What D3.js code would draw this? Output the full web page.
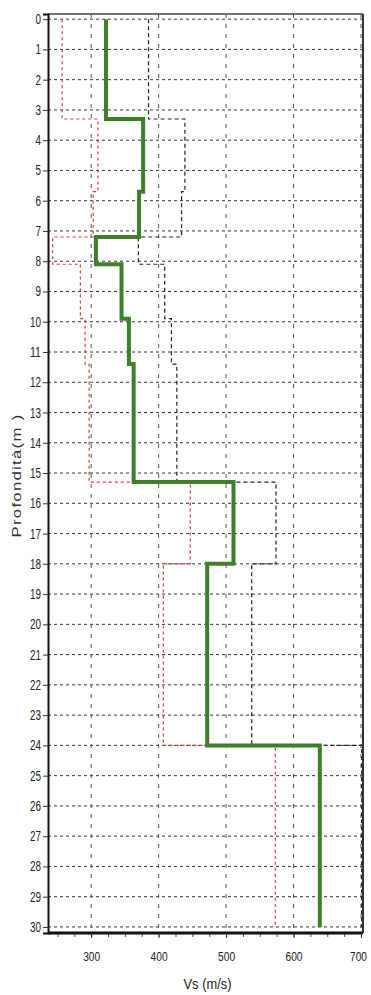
<!DOCTYPE html>
<html>
<head>
<meta charset="utf-8">
<script src="https://cdn.jsdelivr.net/npm/d3@7"></script>
<style>
  html, body { margin: 0; padding: 0; background: #fff; }
  svg { display: block; }
  .tick text { font-family: "Liberation Sans", Arial, sans-serif; fill: #222; }
</style>
</head>
<body>
<svg id="chart" width="371" height="995"></svg>
<script>
// Layer top depths (m); last layer ends at maxDepth
const layerTops = [0, 3.3, 5.7, 7.2, 8.1, 9.9, 11.4, 15.3, 18.0, 24.0];
const maxDepth = 30;
// Best-fit Vs profile (m/s)
const vsBest = [322, 377, 371, 307, 345, 356, 363, 511, 472, 639];
// Lower-bound profile (red dashed)
const vsMin = [257, 310, 303, 243, 284, 291, 297, 447, 407, 573];
// Upper-bound profile (black dashed)
const vsMax = [385, 439, 434, 370, 409, 419, 427, 574, 538, 701];
// Tick values
const xTickValues = [300, 400, 500, 600, 700];
const xMinorTicks = d3.range(250, 701, 25);
const yTickValues = d3.range(0, 31, 1);
const xTitle = "Vs (m/s)";
const yTitle = "Profondità(m )";

const svg = d3.select("#chart");
const L = 48, R = 363, T = 14, B = 933;
const x = d3.scaleLinear().domain([236, 703]).range([L, R]);
const y = d3.scaleLinear().domain([-0.17, 30.2]).range([T, B]);

// grid
const g = svg.append("g");
g.selectAll("line.hg").data(yTickValues).join("line")
  .attr("x1", L).attr("x2", R)
  .attr("y1", d => y(d)).attr("y2", d => y(d))
  .attr("stroke", "#333").attr("stroke-width", 1).attr("stroke-dasharray", "3,3");
g.selectAll("line.vg").data(xTickValues).join("line")
  .attr("x1", d => x(d)).attr("x2", d => x(d))
  .attr("y1", T).attr("y2", B)
  .attr("stroke", "#555").attr("stroke-width", 1).attr("stroke-dasharray", "4,6");

function steps(vals) {
  const pts = [];
  vals.forEach((v, i) => {
    const top = layerTops[i];
    const bot = i + 1 < layerTops.length ? layerTops[i + 1] : maxDepth;
    pts.push([v, top], [v, bot]);
  });
  return pts;
}
const line = d3.line().x(d => x(d[0])).y(d => y(d[1]));

svg.append("path").attr("d", line(steps(vsMin)))
  .attr("fill", "none").attr("stroke", "#e03a30").attr("stroke-width", 1.2)
  .attr("stroke-dasharray", "3,3");
svg.append("path").attr("d", line(steps(vsMax)))
  .attr("fill", "none").attr("stroke", "#222").attr("stroke-width", 1.2)
  .attr("stroke-dasharray", "4,3");
svg.append("path").attr("d", line(steps(vsBest)))
  .attr("fill", "none").attr("stroke", "#3f7f2c").attr("stroke-width", 4)
  .attr("stroke-linejoin", "miter");

// frame
svg.append("line").attr("x1", L).attr("x2", R).attr("y1", T).attr("y2", T).attr("stroke", "#444").attr("stroke-width", 1.5);
svg.append("line").attr("x1", R).attr("x2", R).attr("y1", T).attr("y2", B).attr("stroke", "#333").attr("stroke-width", 2);

// axes
const yAxis = d3.axisLeft(y).tickValues(yTickValues).tickSize(5).tickPadding(2).tickFormat(d3.format("d"));
const ya = svg.append("g").attr("transform", `translate(${L},0)`).call(yAxis);
ya.select(".domain").attr("stroke", "#111").attr("stroke-width", 2);
ya.selectAll(".tick line").attr("stroke", "#333");
ya.selectAll(".tick text").attr("font-size", 14)
  .attr("textLength", d => String(d).length * 5.5).attr("lengthAdjust", "spacingAndGlyphs");

const xMinor = d3.axisBottom(x).tickValues(xMinorTicks.filter(v => v > 236)).tickSize(4).tickFormat("");
const xm = svg.append("g").attr("transform", `translate(0,${B})`).call(xMinor);
xm.select(".domain").remove();
xm.selectAll(".tick line").attr("stroke", "#555");

const xAxis = d3.axisBottom(x).tickValues(xTickValues).tickSize(5).tickPadding(14).tickFormat(d3.format("d"));
const xa = svg.append("g").attr("transform", `translate(0,${B})`).call(xAxis);
xa.select(".domain").attr("stroke", "#111").attr("stroke-width", 3).attr("d", `M${L},0H${R}`);
xa.selectAll(".tick line").attr("stroke", "#333");
xa.selectAll(".tick text").attr("font-size", 13)
  .attr("textLength", 17).attr("lengthAdjust", "spacingAndGlyphs")
  .attr("x", d => d === 700 ? -3 : 0);

svg.append("text").attr("x", (L + R) / 2 + 2).attr("y", 989).attr("text-anchor", "middle")
  .attr("font-family", "Liberation Sans, Arial, sans-serif").attr("font-size", 14).attr("fill", "#222")
  .attr("textLength", 48).attr("lengthAdjust", "spacingAndGlyphs")
  .text(xTitle);
svg.append("text").attr("transform", `translate(21,${(T + B) / 2 + 2}) rotate(-90)`)
  .attr("text-anchor", "middle")
  .attr("font-family", "Liberation Sans, Arial, sans-serif").attr("font-size", 13).attr("fill", "#333")
  .attr("letter-spacing", 1)
  .attr("textLength", 124).attr("lengthAdjust", "spacingAndGlyphs")
  .text(yTitle);
</script>
</body>
</html>
